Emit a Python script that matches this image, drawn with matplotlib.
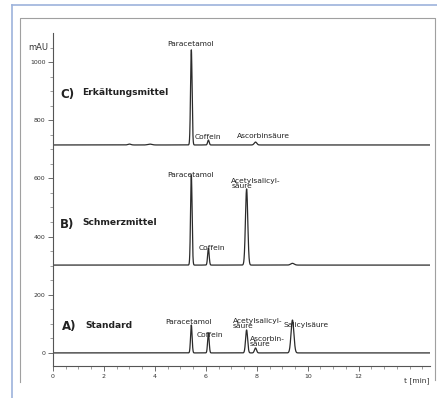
import numpy as np
import matplotlib.pyplot as plt
from matplotlib.lines import Line2D

# Retention times (min) of the compounds
t_paracetamol = 5.43
t_coffein = 6.1
t_acetylsal = 7.6
t_ascorbin = 7.95
t_salicyl = 9.4

# C) Erkältungsmittel: baseline offset, peak times, heights (mAU), widths (min)
c_offset = 715
c_times = [3.0, 3.8, t_paracetamol, t_coffein, t_ascorbin]
c_heights = [3, 3, 327, 17, 10]
c_widths = [0.06, 0.08, 0.03, 0.03, 0.05]

# B) Schmerzmittel
b_offset = 302
b_times = [t_paracetamol, t_coffein, t_acetylsal, t_salicyl]
b_heights = [310, 58, 262, 6]
b_widths = [0.03, 0.03, 0.045, 0.07]

# A) Standard
a_offset = 0
a_times = [t_paracetamol, t_coffein, t_acetylsal, t_ascorbin, t_salicyl]
a_heights = [96, 69, 79, 17, 113]
a_widths = [0.03, 0.03, 0.04, 0.04, 0.055]

y_ticks = [0, 200, 400, 600, 800, 1000]
x_ticks = [0, 2, 4, 6, 8, 10, 12]


def chromatogram(t, offset, times, heights, widths):
    """Sum of gaussian peaks on top of a flat baseline."""
    y = np.full_like(t, float(offset))
    for tr, h, w in zip(times, heights, widths):
        y += h * np.exp(-0.5 * ((t - tr) / w) ** 2)
    return y


fig = plt.figure(figsize=(4.37, 3.98), dpi=100)
ax = fig.add_axes([0.1213, 0.0804, 0.8627, 0.8367])

t = np.linspace(0, 14.8, 6000)
line_color = "#2b2b2b"
for off, tm, hg, wd in [
    (c_offset, c_times, c_heights, c_widths),
    (b_offset, b_times, b_heights, b_widths),
    (a_offset, a_times, a_heights, a_widths),
]:
    ax.plot(t, chromatogram(t, off, tm, hg, wd), color=line_color, lw=0.9)

ax.set_xlim(0, 14.8)
ax.set_ylim(-45, 1100)

# axes look
for s in ["top", "right"]:
    ax.spines[s].set_visible(False)
for s in ["left", "bottom"]:
    ax.spines[s].set_color("#555555")
    ax.spines[s].set_linewidth(0.8)
ax.set_xticks(x_ticks)
ax.set_xticks(np.arange(0, 14.8, 0.5), minor=True)
ax.set_yticks(y_ticks)
ax.set_yticks(np.arange(0, 1100, 50), minor=True)
ax.tick_params(which="major", length=3.5, width=0.6, colors="#555555",
               labelsize=4.5, labelcolor="#333333", pad=2)
ax.tick_params(which="minor", length=2, width=0.5, colors="#777777")

# peak labels
small = dict(fontsize=5.4, color="#222222")
ax.text(5.41, 1062, "Paracetamol", ha="center", va="center", **small)
ax.text(6.1, 742, "Coffein", ha="center", va="center", **small)
ax.text(8.27, 746, "Ascorbinsäure", ha="center", va="center", **small)

ax.text(5.41, 612, "Paracetamol", ha="center", va="center", **small)
ax.text(7.0, 582, "Acetylsalicyl-\nsäure", ha="left", va="center",
        linespacing=0.8, **small)
ax.text(6.24, 361, "Coffein", ha="center", va="center", **small)

ax.text(5.33, 107, "Paracetamol", ha="center", va="center", **small)
ax.text(6.16, 62, "Coffein", ha="center", va="center", **small)
ax.text(7.06, 100, "Acetylsalicyl-\nsäure", ha="left", va="center",
        linespacing=0.8, **small)
ax.text(7.73, 40, "Ascorbin-\nsäure", ha="left", va="center",
        linespacing=0.8, **small)
ax.text(9.06, 96, "Salicylsäure", ha="left", va="center", **small)

# section titles
big = dict(fontweight="bold", color="#222222", va="center", ha="left")
ax.text(0.28, 890, "C)", fontsize=8.5, **big)
ax.text(1.14, 897, "Erkältungsmittel", fontsize=6.6, **big)
ax.text(0.28, 443, "B)", fontsize=8.5, **big)
ax.text(1.14, 450, "Schmerzmittel", fontsize=6.6, **big)
ax.text(0.36, 90, "A)", fontsize=8.5, **big)
ax.text(1.26, 93, "Standard", fontsize=6.6, **big)

# unit labels
fig.text(38 / 437, 1 - 47 / 398, "mAU", fontsize=6, ha="center", va="center",
         color="#333333")
fig.text(430 / 437, 1 - 381 / 398, "t [min]", fontsize=5.4, ha="right", va="center",
         color="#333333")

# scan frame: blue outer line and gray inner box
fig.add_artist(Line2D([12 / 437, 1], [1 - 5 / 398, 1 - 5 / 398],
                      transform=fig.transFigure, color="#9db3dc", lw=1.2))
fig.add_artist(Line2D([12 / 437, 12 / 437], [0, 1 - 5 / 398],
                      transform=fig.transFigure, color="#9db3dc", lw=1.2))
fig.add_artist(Line2D([20 / 437, 20 / 437, 435 / 437, 435 / 437],
                      [1 - 382 / 398, 1 - 18 / 398, 1 - 18 / 398, 1 - 380 / 398],
                      transform=fig.transFigure, color="#a0a0a0", lw=0.8))

fig.savefig("out.png", dpi=100)
